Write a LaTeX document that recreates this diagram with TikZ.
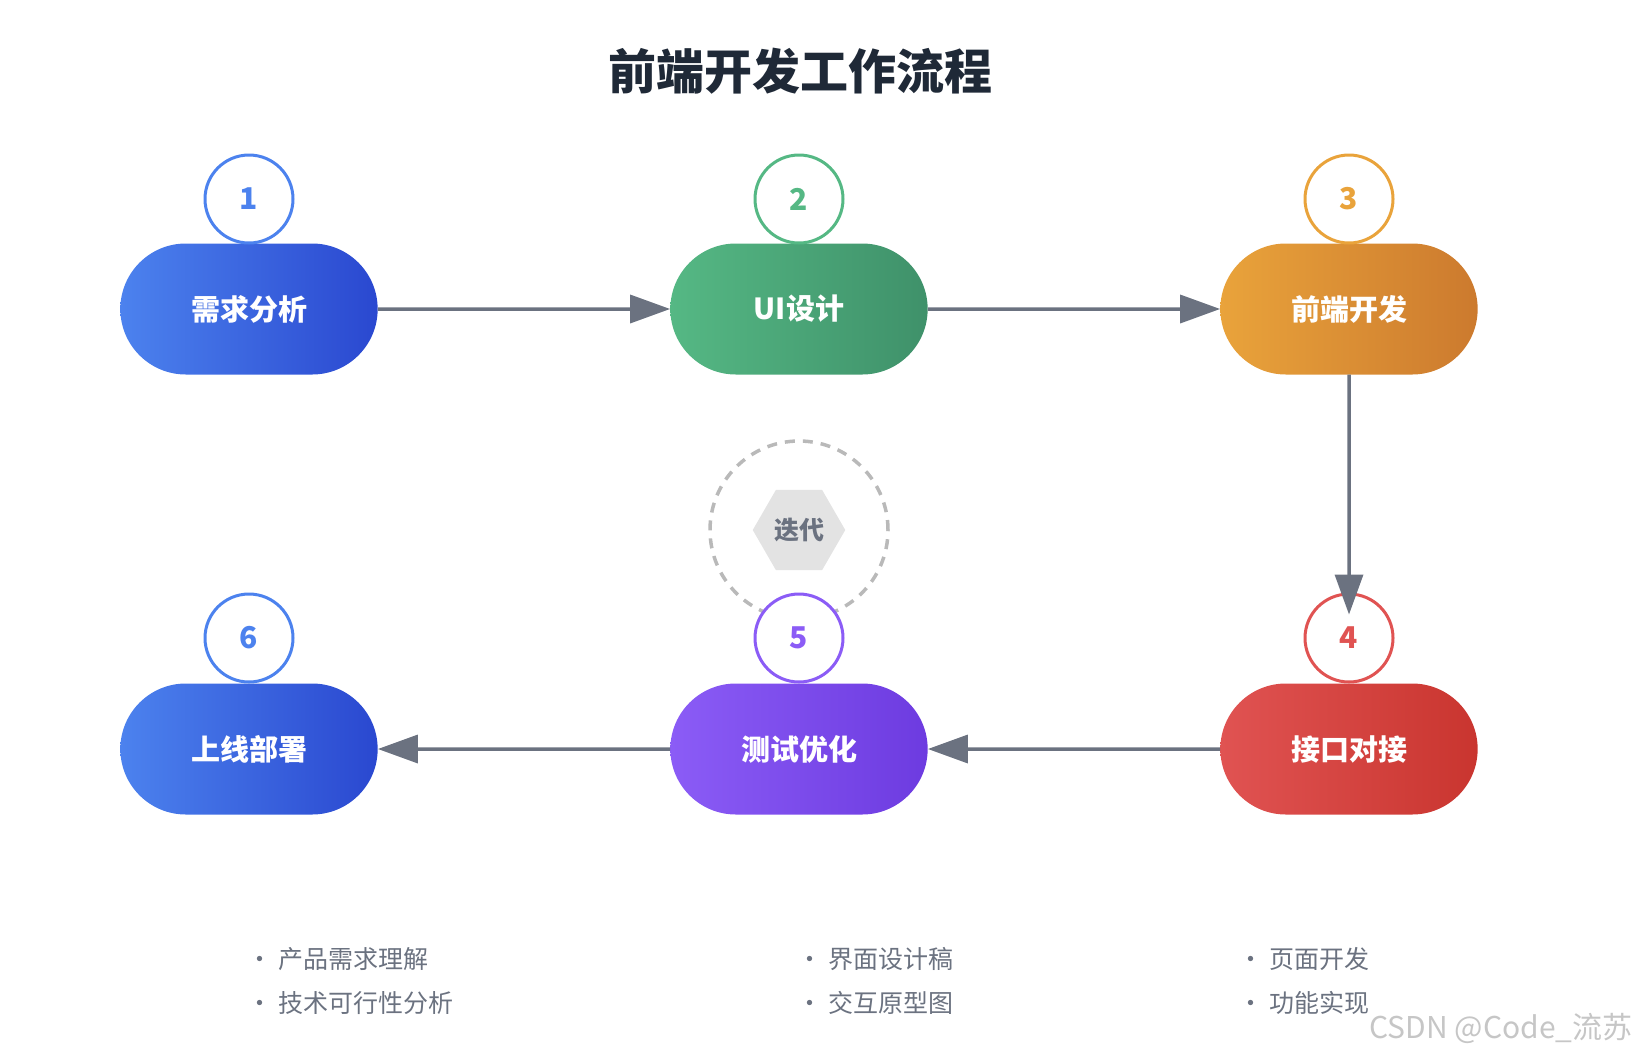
\documentclass[tikz,border=0pt]{standalone}
\usepackage{fontspec}
\setmainfont{Noto Sans CJK SC}
\usetikzlibrary{arrows.meta, shapes.misc, shapes.geometric}
\definecolor{ink}{HTML}{1F2937}
\definecolor{flow}{HTML}{6B7280}
\definecolor{blueA}{HTML}{4C82EE}\definecolor{blueB}{HTML}{2A48D0}
\definecolor{greenA}{HTML}{55B884}\definecolor{greenB}{HTML}{3F916A}
\definecolor{orangeA}{HTML}{E9A33B}\definecolor{orangeB}{HTML}{CC7A2E}
\definecolor{redA}{HTML}{E05352}\definecolor{redB}{HTML}{C9352F}
\definecolor{purpleA}{HTML}{8B5CF6}\definecolor{purpleB}{HTML}{6D3BE0}
\tikzset{
  step/.style 2 args={rounded rectangle, minimum width=264pt, minimum height=131pt,
    left color=#1, right color=#2, text=white, font=\fontsize{29}{29}\selectfont\bfseries},
  num/.style={circle, draw=#1, line width=3pt, fill=white, minimum size=88pt,
    text=#1, font=\fontsize{30}{30}\selectfont\bfseries},
  next/.style={-{Triangle[length=40pt,width=28pt]}, draw=flow, line width=3.5pt},
  note/.style={anchor=west, text=flow, font=\fontsize{25}{25}\selectfont},
}
\begin{document}
\begin{tikzpicture}[x=1pt, y=-1pt]
  \useasboundingbox (0,0) rectangle (1636,1053);

  \node[font=\fontsize{48}{48}\selectfont\bfseries, text=ink] (title) at (800,71) {前端开发工作流程};

  % --- iteration mark ---
  \node[circle, draw=gray!55, dashed, dash pattern=on 10pt off 8pt, line width=3.5pt,
        minimum size=178pt] (loop) at (799,530) {};
  \node[regular polygon, regular polygon sides=6, fill=gray!22, minimum size=92pt,
        text=flow, font=\fontsize{25}{25}\selectfont\bfseries] (iter) at (799,530) {迭代};

  % --- steps ---
  \node[step={blueA}{blueB}]     (p1) at (249,309) {需求分析};
  \node[step={greenA}{greenB}]   (p2) at (799,309) {UI设计};
  \node[step={orangeA}{orangeB}] (p3) at (1349,309) {前端开发};
  \node[step={redA}{redB}]       (p4) at (1349,749) {接口对接};
  \node[step={purpleA}{purpleB}] (p5) at (799,749) {测试优化};
  \node[step={blueA}{blueB}]     (p6) at (249,749) {上线部署};

  \node[num=blueA]   (n1) at (249,199) {1};
  \node[num=greenA]  (n2) at (799,199) {2};
  \node[num=orangeA] (n3) at (1349,199) {3};
  \node[num=redA]    (n4) at (1349,638) {4};
  \node[num=purpleA] (n5) at (799,638) {5};
  \node[num=blueA]   (n6) at (249,638) {6};

  % --- flow ---
  \draw[next] (p1) -- (p2);
  \draw[next] (p2) -- (p3);
  \draw[next] (p3) -- ([yshift=-22pt]n4.north);
  \draw[next] (p4) -- (p5);
  \draw[next] (p5) -- (p6);

  % --- notes ---
  \node[note] (a1) at (244,959) {• 产品需求理解};
  \node[note] (a2) at (244,1003) {• 技术可行性分析};
  \node[note] (b1) at (794,959) {• 界面设计稿};
  \node[note] (b2) at (794,1003) {• 交互原型图};
  \node[note] (c1) at (1235,959) {• 页面开发};
  \node[note] (c2) at (1235,1003) {• 功能实现};

  \node[anchor=east, text=gray!45, font=\fontsize{30}{30}\selectfont] (mark) at (1636,1028) {CSDN @Code\_流苏};
\end{tikzpicture}
\end{document}
